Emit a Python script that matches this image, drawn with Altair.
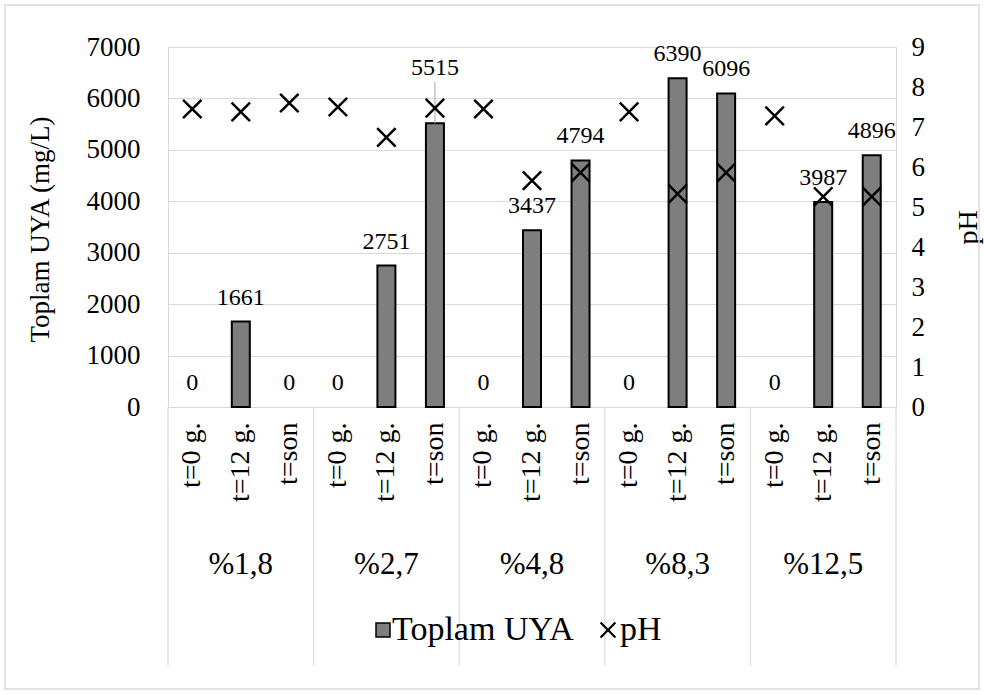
import altair as alt
import pandas as pd

# ---- data ----
groups = ["%1,8", "%2,7", "%4,8", "%8,3", "%12,5"]
items = ["t=0 g.", "t=12 g.", "t=son"]
uya = [0, 1661, 0, 0, 2751, 5515, 0, 3437, 4794, 0, 6390, 6096, 0, 3987, 4896]
ph = [7.45, 7.38, 7.60, 7.50, 6.74, 7.47, 7.45, 5.66, 5.86, 7.38, 5.33, 5.86, 7.28, 5.26, 5.26]
uya_ticks = [0, 1000, 2000, 3000, 4000, 5000, 6000, 7000]
ph_ticks = [0, 1, 2, 3, 4, 5, 6, 7, 8, 9]
series = ["Toplam UYA", "pH"]
callout_key = "%2,7|t=son"

rows = []
for gi, g in enumerate(groups):
    for ii, it in enumerate(items):
        k = gi * len(items) + ii
        rows.append({"key": f"{g}|{it}", "group": g, "item": it, "uya": uya[k], "ph": ph[k]})
df = pd.DataFrame(rows)
keys = list(df["key"])
one = pd.DataFrame({"s": [series[0]], "p": [series[1]]})

FONT = "Liberation Serif, Times New Roman, serif"
GRID = "#d9d9d9"
BAR_FILL = "#7e7e7e"
XPATH = "M-1,-1L1,1M-1,1L1,-1"

xscale = alt.Scale(domain=keys, paddingInner=0, paddingOuter=0)
yscale = alt.Scale(domain=[0, 7000])
pscale = alt.Scale(domain=[0, 9])

x_axis = alt.Axis(title=None, labelExpr="split(datum.value, '|')[1]", labelAngle=270,
                  labelFont=FONT, labelFontSize=28, labelPadding=15, labelColor="black",
                  ticks=False, domain=False, grid=False)
y_axis = alt.Axis(values=uya_ticks, format="d", title="Toplam UYA (mg/L)", titleFont=FONT,
                  titleFontSize=27, titleFontWeight="normal", titleColor="black",
                  titleAngle=270, titleX=-128, titleY=182, titleAlign="center",
                  titleBaseline="middle",
                  labelFont=FONT, labelFontSize=27, labelPadding=28, labelColor="black",
                  ticks=False, domain=False, grid=True, gridColor=GRID)
p_axis = alt.Axis(orient="right", values=ph_ticks, title="pH", titleFont=FONT, titleFontSize=28,
                  titleFontWeight="normal", titleColor="black", titleAngle=270, titleX=72,
                  titleY=180, titleAlign="center", titleBaseline="middle",
                  labelFont=FONT, labelFontSize=27, labelPadding=15, labelColor="black",
                  ticks=False, domain=False, grid=False)


def X(**kw):
    return alt.X("key:N", scale=xscale, axis=x_axis, **kw)


def Y():
    return alt.Y("uya:Q", scale=yscale, axis=y_axis)


bars = alt.Chart(df).transform_filter(alt.datum.uya > 0).mark_bar(
    size=18, fill=BAR_FILL, stroke="black", strokeWidth=2).encode(x=X(), y=Y())

labels = alt.Chart(df).transform_filter(alt.datum.key != callout_key).mark_text(
    font=FONT, fontSize=24, dy=-24, baseline="middle", color="black").encode(
    x=X(), y=Y(), text="uya:Q")

callout_label = alt.Chart(df).transform_filter(alt.datum.key == callout_key).mark_text(
    font=FONT, fontSize=24, dy=-55, baseline="middle", color="black").encode(
    x=X(), y=Y(), text="uya:Q")
callout_rule = alt.Chart(df).transform_filter(alt.datum.key == callout_key).mark_rule(
    color="#a6a6a6", strokeWidth=1).encode(x=X(), y=Y(), y2=alt.value(35))

sep_start = alt.Chart(df).transform_filter(alt.datum.item == items[0]).mark_rule(
    color=GRID, strokeWidth=1).encode(
    x=X(bandPosition=0), y=alt.value(360), y2=alt.value(619))
sep_end = alt.Chart(df).transform_filter(alt.datum.key == keys[-1]).mark_rule(
    color=GRID, strokeWidth=1).encode(
    x=X(bandPosition=1), y=alt.value(360), y2=alt.value(619))

group_labels = alt.Chart(df).transform_filter(alt.datum.item == items[1]).mark_text(
    font=FONT, fontSize=31, baseline="middle", color="black").encode(
    x=X(), y=alt.value(518), text="group:N")

border = alt.Chart(one).mark_rect(fill="white", fillOpacity=0, stroke=GRID, strokeWidth=1.5).encode(
    x=alt.value(-163), x2=alt.value(811), y=alt.value(-42), y2=alt.value(642))

leg_swatch = alt.Chart(one).mark_square(size=196, fill=BAR_FILL, stroke="black",
                                        strokeWidth=1.5, opacity=1).encode(
    x=alt.value(215), y=alt.value(583))
leg_text1 = alt.Chart(one).mark_text(font=FONT, fontSize=34, align="left",
                                     baseline="middle", color="black").encode(
    x=alt.value(224), y=alt.value(583), text="s:N")
leg_x = alt.Chart(one).mark_point(shape=XPATH, size=220, filled=False, color="black",
                                  strokeWidth=2.2, opacity=1).encode(
    x=alt.value(440), y=alt.value(583))
leg_text2 = alt.Chart(one).mark_text(font=FONT, fontSize=34, align="left",
                                     baseline="middle", color="black").encode(
    x=alt.value(452), y=alt.value(583), text="p:N")

points = alt.Chart(df).mark_point(shape=XPATH, size=340, filled=False, color="black",
                                  strokeWidth=2.5, opacity=1).encode(
    x=X(), y=alt.Y("ph:Q", scale=pscale, axis=p_axis))

uya_layer = alt.layer(bars, labels, callout_rule, callout_label,
                      sep_start, sep_end, group_labels)
deco = alt.layer(border, leg_swatch, leg_text1, leg_x, leg_text2)

chart = alt.layer(uya_layer, points, deco).resolve_scale(y="independent").properties(
    width=728, height=360,
    autosize=alt.AutoSizeParams(type="none"),
    padding={"left": 168, "top": 47, "right": 88, "bottom": 288},
    background="white",
).configure_view(stroke=GRID, strokeWidth=1)

chart.save("out.html", embed_options={"renderer": "svg", "actions": False})
